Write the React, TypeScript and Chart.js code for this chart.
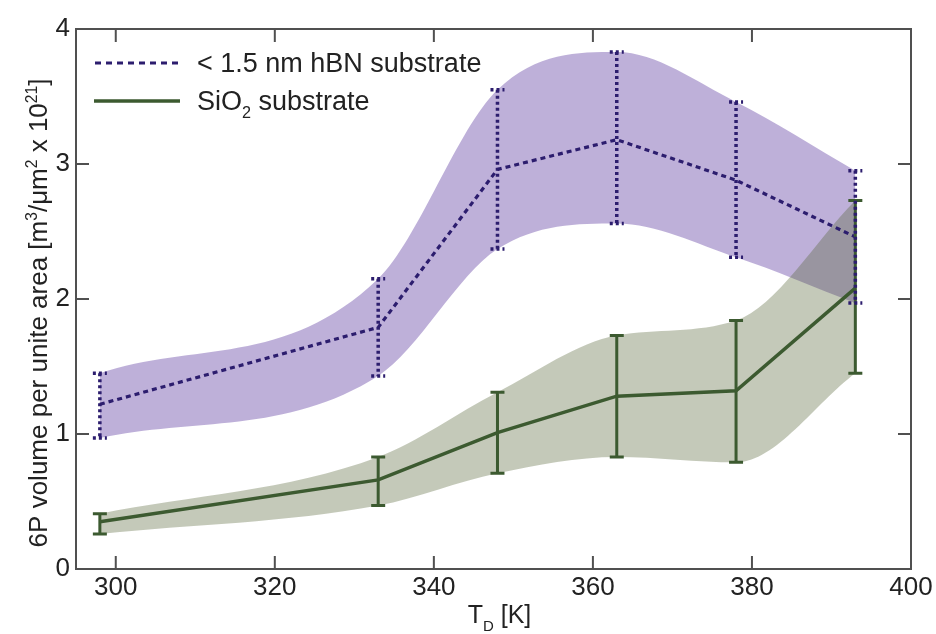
import React, { useEffect, useRef } from 'react';
import { Chart, registerables } from 'chart.js';

Chart.register(...registerables);

// ---------- data ----------
const TEMPS = [298, 333, 348, 363, 378, 393];
const HBN_MEAN = [1.22, 1.79, 2.96, 3.18, 2.88, 2.46];
const HBN_HI = [1.45, 2.15, 3.55, 3.83, 3.46, 2.95];
const HBN_LO = [0.97, 1.43, 2.37, 2.56, 2.31, 1.97];
const SIO2_MEAN = [0.35, 0.66, 1.01, 1.28, 1.32, 2.08];
const SIO2_HI = [0.41, 0.83, 1.31, 1.73, 1.84, 2.73];
const SIO2_LO = [0.26, 0.47, 0.71, 0.83, 0.79, 1.45];
const X_TICKS = [300, 320, 340, 360, 380, 400];
const Y_TICKS = [0, 1, 2, 3, 4];
const X_MIN = 295;
const X_MAX = 400;
const Y_MIN = 0;
const Y_MAX = 4;

const HBN_LABEL = '< 1.5 nm hBN substrate';

// ---------- styles ----------
const FONT = '"Liberation Sans", Arial, Helvetica, sans-serif';
const HBN_COLOR = '#2c1d6e';
const SIO2_COLOR = '#3c5a30';
const HBN_FILL = 'rgba(110, 80, 170, 0.45)';
const SIO2_FILL = 'rgba(85, 100, 55, 0.35)';
const FRAME = '#505050';
const TEXT = '#222222';

type Seg = { t: string; s?: 'sub' | 'sup' };

function drawRich(
  ctx: CanvasRenderingContext2D,
  segs: Seg[],
  x: number,
  y: number,
  size: number,
  align: 'left' | 'center'
) {
  const small = size * 0.6;
  let total = 0;
  const widths: number[] = [];
  for (const s of segs) {
    ctx.font = `${s.s ? small : size}px ${FONT}`;
    const w = ctx.measureText(s.t).width;
    widths.push(w);
    total += w;
  }
  let cx = align === 'center' ? x - total / 2 : x;
  ctx.textAlign = 'left';
  ctx.textBaseline = 'alphabetic';
  segs.forEach((s, i) => {
    ctx.font = `${s.s ? small : size}px ${FONT}`;
    const dy = s.s === 'sub' ? size * 0.3 : s.s === 'sup' ? -size * 0.38 : 0;
    ctx.fillText(s.t, cx, y + dy);
    cx += widths[i];
  });
}

const decor = {
  id: 'decor',
  afterDatasetsDraw(chart: any) {
    const { ctx, scales } = chart;
    const xs = scales.x;
    const ys = scales.y;
    const bars = (lo: number[], hi: number[], color: string, dash: number[], w: number) => {
      ctx.save();
      ctx.strokeStyle = color;
      ctx.lineWidth = w;
      ctx.setLineDash(dash);
      ctx.lineCap = 'butt';
      TEMPS.forEach((t, i) => {
        const px = xs.getPixelForValue(t);
        const pl = ys.getPixelForValue(lo[i]);
        const ph = ys.getPixelForValue(hi[i]);
        ctx.beginPath();
        ctx.moveTo(px, ph);
        ctx.lineTo(px, pl);
        ctx.moveTo(px - 7, ph);
        ctx.lineTo(px + 7, ph);
        ctx.moveTo(px - 7, pl);
        ctx.lineTo(px + 7, pl);
        ctx.stroke();
      });
      ctx.restore();
    };
    bars(SIO2_LO, SIO2_HI, SIO2_COLOR, [], 3);
    bars(HBN_LO, HBN_HI, HBN_COLOR, [3, 3], 3.5);
  },
  afterDraw(chart: any) {
    const { ctx, chartArea: a, scales } = chart;
    const xs = scales.x;
    const ys = scales.y;
    ctx.save();
    // frame
    ctx.strokeStyle = FRAME;
    ctx.lineWidth = 2;
    ctx.strokeRect(a.left, a.top, a.right - a.left, a.bottom - a.top);
    // inward ticks
    const TL = 13;
    ctx.beginPath();
    X_TICKS.forEach((v) => {
      const px = xs.getPixelForValue(v);
      ctx.moveTo(px, a.bottom);
      ctx.lineTo(px, a.bottom - TL);
      ctx.moveTo(px, a.top);
      ctx.lineTo(px, a.top + TL);
    });
    Y_TICKS.forEach((v) => {
      const py = ys.getPixelForValue(v);
      ctx.moveTo(a.left, py);
      ctx.lineTo(a.left + TL, py);
      ctx.moveTo(a.right, py);
      ctx.lineTo(a.right - TL, py);
    });
    ctx.stroke();

    // axis titles
    ctx.fillStyle = TEXT;
    drawRich(ctx, [{ t: 'T' }, { t: 'D', s: 'sub' }, { t: ' [K]' }], (a.left + a.right) / 2 + 6, 623, 25, 'center');
    ctx.save();
    ctx.translate(47, (a.top + a.bottom) / 2 + 14);
    ctx.rotate(-Math.PI / 2);
    drawRich(
      ctx,
      [
        { t: '6P volume per unite area [m' },
        { t: '3', s: 'sup' },
        { t: '/\u03bcm' },
        { t: '2', s: 'sup' },
        { t: ' x 10' },
        { t: '21', s: 'sup' },
        { t: ']' },
      ],
      0,
      0,
      26,
      'center'
    );
    ctx.restore();

    // legend
    ctx.lineWidth = 3;
    ctx.strokeStyle = HBN_COLOR;
    ctx.setLineDash([6, 5]);
    ctx.beginPath();
    ctx.moveTo(95, 63);
    ctx.lineTo(180, 63);
    ctx.stroke();
    ctx.setLineDash([]);
    ctx.strokeStyle = SIO2_COLOR;
    ctx.lineWidth = 3.5;
    ctx.beginPath();
    ctx.moveTo(94, 101);
    ctx.lineTo(180, 101);
    ctx.stroke();
    ctx.fillStyle = TEXT;
    drawRich(ctx, [{ t: HBN_LABEL }], 197, 72, 27, 'left');
    drawRich(ctx, [{ t: 'SiO' }, { t: '2', s: 'sub' }, { t: ' substrate' }], 197, 110, 27, 'left');
    ctx.restore();
  },
};

const pts = (vals: number[]) => TEMPS.map((t, i) => ({ x: t, y: vals[i] }));

const band = (vals: number[], fillColor: string | null, order: number) => ({
  label: 'band',
  data: pts(vals),
  borderWidth: 0,
  borderColor: 'rgba(0,0,0,0)',
  backgroundColor: fillColor || 'rgba(0,0,0,0)',
  pointRadius: 0,
  cubicInterpolationMode: 'monotone',
  fill: fillColor ? '+1' : false,
  order,
});

export default function App() {
  const ref = useRef<HTMLCanvasElement>(null);
  useEffect(() => {
    document.body.style.margin = '0';
    const canvas = ref.current!;
    const chart = new Chart(canvas, {
      type: 'line',
      data: {
        datasets: [
          {
            label: HBN_LABEL,
            data: pts(HBN_MEAN),
            borderColor: HBN_COLOR,
            borderWidth: 3.2,
            borderDash: [5, 4],
            pointRadius: 0,
            tension: 0,
            fill: false,
            order: 0,
          },
          {
            label: 'SiO2 substrate',
            data: pts(SIO2_MEAN),
            borderColor: SIO2_COLOR,
            borderWidth: 3.5,
            pointRadius: 0,
            tension: 0,
            fill: false,
            order: 0,
          },
          band(SIO2_HI, SIO2_FILL, 1),
          band(SIO2_LO, null, 1),
          band(HBN_HI, HBN_FILL, 2),
          band(HBN_LO, null, 2),
        ] as any,
      },
      options: {
        responsive: false,
        animation: false,
        layout: { padding: { top: 29, right: 25, left: 0, bottom: 0 } },
        plugins: { legend: { display: false }, tooltip: { enabled: false } },
        scales: {
          x: {
            type: 'linear',
            min: X_MIN,
            max: X_MAX,
            grid: { display: false, drawTicks: false },
            border: { display: false },
            afterBuildTicks: (s: any) => {
              s.ticks = X_TICKS.map((v) => ({ value: v }));
            },
            afterFit: (s: any) => {
              s.height = 65;
            },
            ticks: {
              font: { family: FONT, size: 26 },
              color: TEXT,
              padding: 3,
              maxRotation: 0,
              autoSkip: false,
            },
          },
          y: {
            type: 'linear',
            min: Y_MIN,
            max: Y_MAX,
            grid: { display: false, drawTicks: false },
            border: { display: false },
            afterBuildTicks: (s: any) => {
              s.ticks = Y_TICKS.map((v) => ({ value: v }));
            },
            afterFit: (s: any) => {
              s.width = 76;
            },
            ticks: {
              font: { family: FONT, size: 26 },
              color: TEXT,
              padding: 6,
            },
          },
        },
      },
      plugins: [decor],
    });
    return () => chart.destroy();
  }, []);
  return (
    <div style={{ position: 'absolute', left: 0, top: 0, width: 936, height: 634, background: '#fff' }}>
      <canvas ref={ref} width={936} height={634} style={{ width: 936, height: 634, display: 'block' }} />
    </div>
  );
}
